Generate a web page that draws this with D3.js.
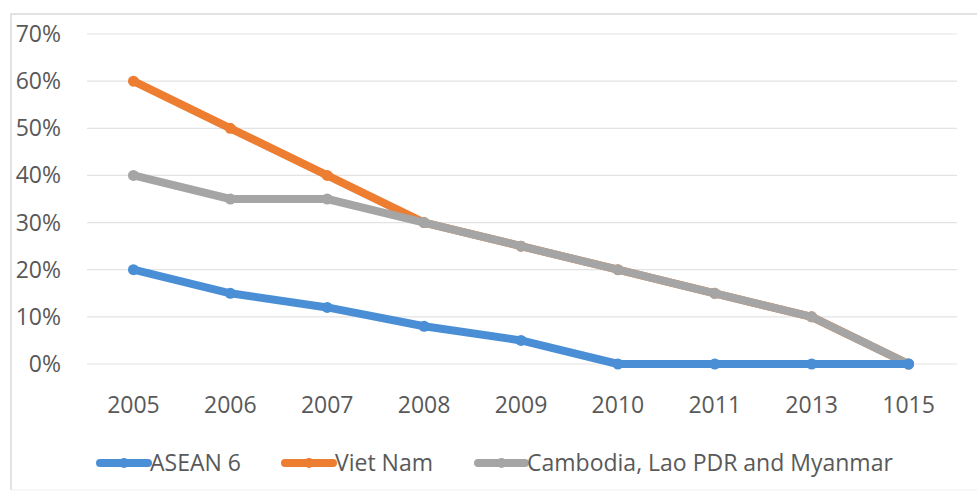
<!DOCTYPE html>
<html>
<head>
<meta charset="utf-8">
<script src="https://cdn.jsdelivr.net/npm/d3@7"></script>
<style>
  body { margin: 0; background: #fff; }
  svg text { font-family: "Open Sans", "Liberation Sans", sans-serif; fill: #595959; }
</style>
</head>
<body>
<svg id="chart"></svg>
<script>
const years = ['2005', '2006', '2007', '2008', '2009', '2010', '2011', '2013', '1015'];
const asean6 = [20, 15, 12, 8, 5, 0, 0, 0, 0];
const vietNam = [60, 50, 40, 30, 25, 20, 15, 10, 0];
const clm = [40, 35, 35, 30, 25, 20, 15, 10, 0];
const yTicks = [0, 10, 20, 30, 40, 50, 60, 70];

const series = [
  {name: 'ASEAN 6', values: asean6, color: '#4a8fd6'},
  {name: 'Viet Nam', values: vietNam, color: '#ed7d31'},
  {name: 'Cambodia, Lao PDR and Myanmar', values: clm, color: '#a5a5a5'}
];

const width = 977, height = 495;
const fontSize = '23px';
const svg = d3.select('svg#chart')
  .attr('width', width)
  .attr('height', height);

// outer frame
svg.append('path')
  .attr('d', 'M11,490 L11,14 L977,14')
  .attr('fill', 'none')
  .attr('stroke', '#d9d9d9')
  .attr('stroke-width', 1.5);
svg.append('line')
  .attr('x1', 11).attr('x2', 977)
  .attr('y1', 490).attr('y2', 490)
  .attr('stroke', '#eeeeee');

const x = d3.scalePoint()
  .domain(years)
  .range([85, 957])
  .padding(0.5);

const y = d3.scaleLinear()
  .domain([0, 70])
  .range([364, 34]);

// gridlines
svg.append('g')
  .selectAll('line')
  .data(yTicks)
  .join('line')
  .attr('x1', 87).attr('x2', 957)
  .attr('y1', d => y(d)).attr('y2', d => y(d))
  .attr('stroke', '#e3e3e3')
  .attr('stroke-width', 1.2);

// y labels
svg.append('g')
  .selectAll('text')
  .data(yTicks)
  .join('text')
  .attr('x', 61)
  .attr('y', d => y(d))
  .attr('dy', '0.35em')
  .attr('text-anchor', 'end')
  .style('font-size', fontSize)
  .text(d => d + '%');

// x labels
svg.append('g')
  .selectAll('text')
  .data(years)
  .join('text')
  .attr('x', d => x(d))
  .attr('y', 405)
  .attr('dy', '0.35em')
  .attr('text-anchor', 'middle')
  .style('font-size', fontSize)
  .text(d => d);

const line = d3.line()
  .x((d, i) => x(years[i]))
  .y(d => y(d));

// draw viet nam first, then gray over, then blue on top
[series[1], series[2], series[0]].forEach(s => {
  const g = svg.append('g');
  g.append('path')
    .datum(s.values)
    .attr('d', line)
    .attr('fill', 'none')
    .attr('stroke', s.color)
    .attr('stroke-width', 8)
    .attr('stroke-linejoin', 'round')
    .attr('stroke-linecap', 'round');
  g.selectAll('circle')
    .data(s.values)
    .join('circle')
    .attr('cx', (d, i) => x(years[i]))
    .attr('cy', d => y(d))
    .attr('r', 5.5)
    .attr('fill', s.color);
});

// legend
const legendPos = [
  {x0: 100, x1: 148, tx: 150},
  {x0: 285, x1: 333, tx: 335},
  {x0: 478, x1: 525, tx: 527}
];
const legend = svg.append('g');
series.forEach((s, i) => {
  const p = legendPos[i];
  legend.append('line')
    .attr('x1', p.x0).attr('x2', p.x1)
    .attr('y1', 463).attr('y2', 463)
    .attr('stroke', s.color)
    .attr('stroke-width', 8)
    .attr('stroke-linecap', 'round');
  legend.append('circle')
    .attr('cx', (p.x0 + p.x1) / 2).attr('cy', 463)
    .attr('r', 5)
    .attr('fill', s.color);
  legend.append('text')
    .attr('x', p.tx).attr('y', 463)
    .attr('dy', '0.35em')
    .style('font-size', fontSize)
    .text(s.name);
});
</script>
</body>
</html>
